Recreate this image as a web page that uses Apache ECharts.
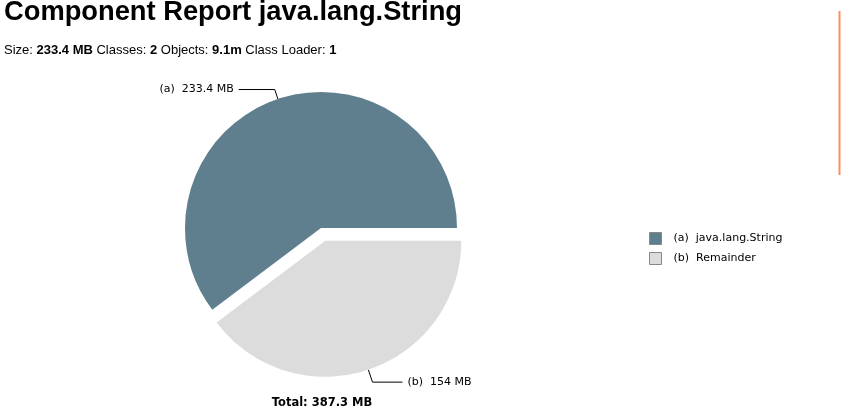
<!DOCTYPE html>
<html>
<head>
<meta charset="utf-8">
<script src="https://cdn.jsdelivr.net/npm/echarts@6/dist/echarts.min.js"></script>
<style>
html,body{margin:0;padding:0;background:#fff;}
#main{width:841px;height:418px;}
</style>
</head>
<body>
<div id="main"></div>
<script>
// chart data
var categories = ['java.lang.String', 'Remainder'];
var letters = ['a', 'b'];
var sizesMB = [233.4, 153.9];
var sizeLabels = ['233.4 MB', '154 MB'];
var colors = ['#5f7f8e', '#dcdcdc'];
var totalLabel = 'Total: 387.3 MB';

var chart = echarts.init(document.getElementById('main'));

// leader line sizes per slice
var lineLen = [10, 13];
var lineLen2 = [36, 30];

var pieData = [];
for (var i = 0; i < categories.length; i++) {
    pieData.push({
        name: categories[i],
        value: sizesMB[i],
        selected: i == 1,
        itemStyle: { color: colors[i] },
        labelLine: { length: lineLen[i], length2: lineLen2[i] }
    });
}

var option = {
    animation: false,
    title: [{
        text: 'Component Report java.lang.String',
        left: -1,
        top: -6,
        textStyle: { fontFamily: 'Liberation Sans', fontWeight: 'bold', fontSize: 27.3, color: '#000' },
        subtext: 'Size: {b|233.4 MB} Classes: {b|2} Objects: {b|9.1m} Class Loader: {b|1}',
        itemGap: 18,
        subtextStyle: {
            fontFamily: 'Liberation Sans', fontSize: 13, color: '#000',
            rich: { b: { fontFamily: 'Liberation Sans', fontSize: 13, fontWeight: 'bold', color: '#000' } }
        }
    }, {
        text: totalLabel,
        left: 317,
        textAlign: 'center',
        top: 392,
        textStyle: { fontFamily: 'DejaVu Sans', fontWeight: 'bold', fontSize: 11.5, color: '#000' }
    }],
    legend: {
        orient: 'vertical',
        left: 644,
        top: 227,
        icon: 'rect',
        itemWidth: 12,
        itemHeight: 12,
        itemGap: 7,
        selectedMode: false,
        itemStyle: { borderColor: '#888', borderWidth: 1 },
        textStyle: { fontFamily: 'DejaVu Sans', fontSize: 11, color: '#000', padding: [0, 0, 0, 7] },
        formatter: function (name) {
            return '(' + letters[categories.indexOf(name)] + ')  ' + name;
        },
        data: categories
    },
    graphic: [{
        type: 'line',
        shape: { x1: 839.5, y1: 11, x2: 839.5, y2: 175 },
        style: { stroke: '#f7905f', lineWidth: 2 }
    }],
    series: [{
        type: 'pie',
        center: [321, 228],
        radius: 136,
        startAngle: 0,
        clockwise: false,
        selectedMode: 'single',
        selectedOffset: 13.5,
        emphasis: { disabled: true },
        label: {
            show: true,
            position: 'outside',
            fontFamily: 'DejaVu Sans',
            fontSize: 11,
            color: '#000',
            formatter: function (p) {
                return '(' + letters[p.dataIndex] + ')  ' + sizeLabels[p.dataIndex];
            }
        },
        labelLine: {
            show: true,
            lineStyle: { color: '#000', width: 1 }
        },
        data: pieData
    }]
};
chart.setOption(option);
</script>
</body>
</html>
